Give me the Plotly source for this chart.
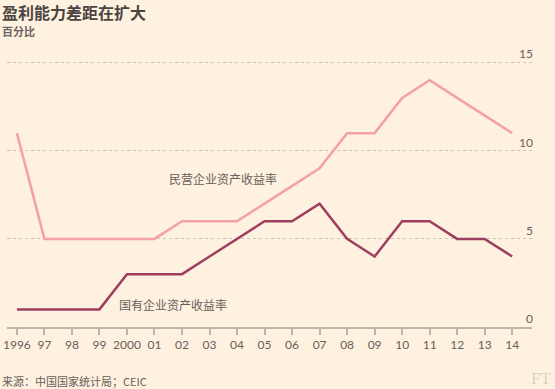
import plotly.graph_objects as go

years = list(range(1996, 2015))
year_labels = ["1996", "97", "98", "99", "2000", "01", "02", "03", "04", "05",
               "06", "07", "08", "09", "10", "11", "12", "13", "14"]
private_roa = [11, 5, 5, 5, 5, 5, 6, 6, 6, 7, 8, 9, 11, 11, 13, 14, 13, 12, 11]
state_roa = [1, 1, 1, 1, 3, 3, 3, 4, 5, 6, 6, 7, 5, 4, 6, 6, 5, 5, 4]
y_ticks = [0, 5, 10, 15]

title = "盈利能力差距在扩大"
subtitle = "百分比"
source = "来源：中国国家统计局；CEIC"
label_private = "民营企业资产收益率"
label_state = "国有企业资产收益率"

CJK = "Noto Sans CJK SC"
NUM = "Lato"
BG = "#fff1e0"

fig = go.Figure()
fig.add_trace(go.Scatter(x=years, y=private_roa, mode="lines",
                         line=dict(color="#f3a0a6", width=2.5), hoverinfo="skip"))
fig.add_trace(go.Scatter(x=years, y=state_roa, mode="lines",
                         line=dict(color="#9e3f5f", width=2.5), hoverinfo="skip"))

fig.update_layout(
    width=555, height=389,
    margin=dict(l=3, r=23, t=45, b=62),
    paper_bgcolor=BG, plot_bgcolor=BG,
    showlegend=False,
    xaxis=dict(
        range=[1995.64, 2014.72],
        tickvals=years, ticktext=year_labels,
        showgrid=False, zeroline=False,
        showline=True, linecolor="#bdb6ac", linewidth=1.5,
        ticks="outside", ticklen=6, tickcolor="#bdb6ac", tickwidth=1.5,
        tickfont=dict(family=NUM, size=12, color="#66605a"),
        ticklabeloverflow="allow",
        fixedrange=True,
    ),
    yaxis=dict(
        range=[0, 16],
        tickvals=y_ticks,
        side="right",
        ticklabelposition="inside top",
        ticklabelstandoff=-4,
        showgrid=True, gridcolor="#ccc4ba", griddash="dot", gridwidth=1,
        zeroline=False, showline=False, ticks="",
        tickfont=dict(family=NUM, size=12, color="#66605a"),
        fixedrange=True,
    ),
)

def py(pix):
    return (327 - pix) / 282

def px(pix):
    return (pix - 3) / 529

fig.add_annotation(text=title, xref="paper", yref="paper", x=px(-4), y=py(12),
                   xanchor="left", yanchor="middle", showarrow=False,
                   font=dict(family=CJK, size=16, color="#4a4541", weight=600))
fig.add_annotation(text=subtitle, xref="paper", yref="paper", x=px(-4), y=py(31),
                   xanchor="left", yanchor="middle", showarrow=False,
                   font=dict(family=CJK, size=11, color="#6b655f", weight=600))
fig.add_annotation(text=source, xref="paper", yref="paper", x=px(-4), y=py(381),
                   xanchor="left", yanchor="middle", showarrow=False,
                   font=dict(family=CJK, size=11, color="#66605a"))
fig.add_annotation(text="FT", xref="paper", yref="paper", x=px(553), y=py(378),
                   xanchor="right", yanchor="middle", showarrow=False,
                   font=dict(family="Liberation Serif", size=17, color="#d9d1c6"))
fig.add_annotation(text=label_private, x=2003.5, y=8.45, xref="x", yref="y",
                   showarrow=False, xanchor="center", yanchor="middle",
                   font=dict(family=CJK, size=12, color="#66605a"))
fig.add_annotation(text=label_state, x=2001.67, y=1.3, xref="x", yref="y",
                   showarrow=False, xanchor="center", yanchor="middle",
                   font=dict(family=CJK, size=12, color="#66605a"))

fig.write_html("out.html", config={"displayModeBar": False},
               post_script="document.body.style.margin='0';document.body.style.padding='0';")
